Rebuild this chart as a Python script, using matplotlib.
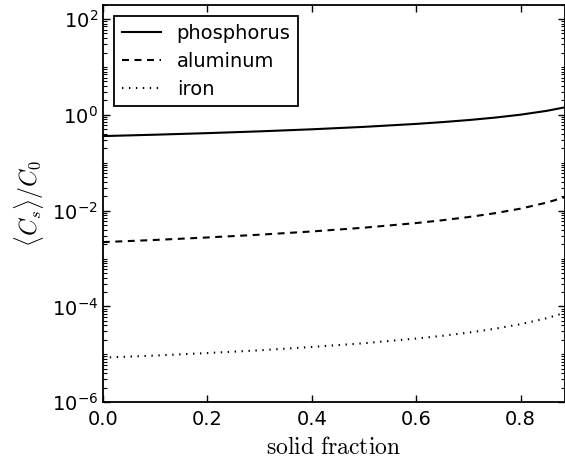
#!/usr/bin/env python3
import numpy as np
import matplotlib
matplotlib.use('Agg')
import matplotlib.pyplot as plt
from matplotlib.ticker import FixedLocator, LogFormatterSciNotation, NullFormatter

plt.rcParams['mathtext.fontset'] = 'cm'
plt.rcParams['font.family'] = 'DejaVu Sans'
plt.rcParams['lines.scale_dashes'] = False
plt.rcParams['axes.unicode_minus'] = False

# solid fraction samples and <Cs>/C0
fs = [0.0, 0.1, 0.2, 0.3, 0.4, 0.5, 0.6, 0.65, 0.7, 0.75, 0.8, 0.85, 0.885]
phosphorus = [0.360, 0.385, 0.415, 0.452, 0.499, 0.561, 0.647, 0.705, 0.778, 0.874, 1.008, 1.212, 1.437]
aluminum = [0.00220, 0.00244, 0.00275, 0.00314, 0.00367, 0.00440, 0.00550, 0.00629,
            0.00733, 0.00880, 0.0110, 0.0147, 0.0191]
iron = [8.5e-6, 9.4e-6, 1.06e-5, 1.21e-5, 1.42e-5, 1.70e-5, 2.13e-5, 2.43e-5,
        2.83e-5, 3.40e-5, 4.25e-5, 5.67e-5, 7.39e-5]

fig = plt.figure(figsize=(5.65, 4.66), dpi=100)
ax = fig.add_axes([0.182, 0.137, 0.818, 0.853])

ax.semilogy(fs, phosphorus, '-', color='black', lw=1.5, label='phosphorus')
ax.semilogy(fs, aluminum, '--', color='black', lw=1.5, dashes=(5, 4), label='aluminum')
ax.semilogy(fs, iron, ':', color='black', lw=1.5, dashes=(1, 4), label='iron')

ax.set_xlim(0, 0.885)
ax.set_ylim(1e-6, 2e2)
ax.set_xticks([0.0, 0.2, 0.4, 0.6, 0.8])
ax.set_xticklabels(['0.0', '0.2', '0.4', '0.6', '0.8'])

majors = [1e-6, 1e-4, 1e-2, 1e0, 1e2]
minors = [m * 10.0**e for e in range(-6, 3) for m in range(1, 10)]
minors = [v for v in minors if v not in majors]
ax.yaxis.set_major_locator(FixedLocator(majors))
ax.yaxis.set_minor_locator(FixedLocator(minors))
ax.yaxis.set_major_formatter(LogFormatterSciNotation())
ax.yaxis.set_minor_formatter(NullFormatter())

ax.tick_params(which='both', direction='in', top=True, right=True, labelsize=14)
ax.tick_params(axis='x', pad=6)
ax.tick_params(which='major', length=5, width=1)
ax.tick_params(which='minor', length=3, width=0.8)
for sp in ax.spines.values():
    sp.set_linewidth(1.3)

ax.set_xlabel(r'$\mathrm{solid\ fraction}$', fontsize=17, labelpad=4)
ax.set_ylabel(r'$\langle C_s \rangle / C_0$', fontsize=17, labelpad=4)

leg = ax.legend(loc='upper left', fontsize=14, fancybox=False, framealpha=1,
                edgecolor='black', handlelength=2.0, handletextpad=0.8,
                labelspacing=0.45, borderaxespad=0.6)
leg.get_frame().set_linewidth(1.3)

fig.savefig('out.png', dpi=100)
